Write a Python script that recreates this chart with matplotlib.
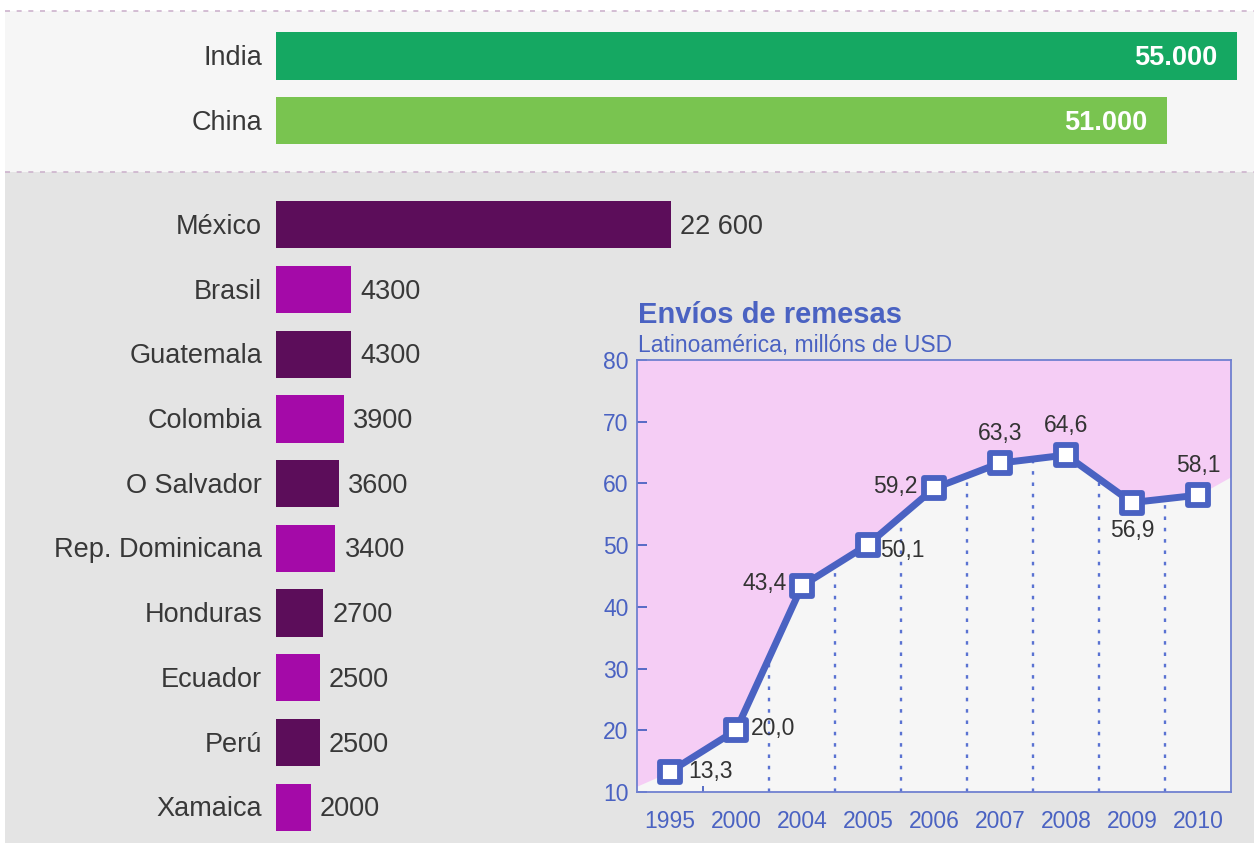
import numpy as np
import matplotlib.pyplot as plt
from matplotlib.patches import Rectangle
from matplotlib.markers import MarkerStyle

plt.rcParams['font.family'] = ['Liberation Sans', 'DejaVu Sans']

# datos
top_countries = ['India', 'China']
top_values = [55000, 51000]
top_colors = ['#15a862', '#79c450']

latam_countries = ['México', 'Brasil', 'Guatemala', 'Colombia', 'O Salvador',
                   'Rep. Dominicana', 'Honduras', 'Ecuador', 'Perú', 'Xamaica']
latam_values = [22600, 4300, 4300, 3900, 3600, 3400, 2700, 2500, 2500, 2000]
latam_colors = ['#5c0d5a', '#a40aa8']

years = ['1995', '2000', '2004', '2005', '2006', '2007', '2008', '2009', '2010']
remesas = [13.3, 20.0, 43.4, 50.1, 59.2, 63.3, 64.6, 56.9, 58.1]
# onde vai cada etiqueta: (dx, dy) en puntos, aliñamento
label_pos = [(13, 0, 'left'), (11, 1, 'left'), (-11, 2, 'right'), (9, -4, 'left'),
             (-12, 1, 'right'), (0, 21, 'center'), (0, 21, 'center'),
             (0, -20, 'center'), (0, 21, 'center')]

W, H = 1254, 843
fig = plt.figure(figsize=(W / 100, H / 100), dpi=100)
fig.patch.set_facecolor('white')

# fondos
fig.patches.append(Rectangle((5 / W, 0), 1, 1 - 11 / H, transform=fig.transFigure,
                             facecolor='#e4e4e4', edgecolor='none', zorder=-2))
fig.patches.append(Rectangle((5 / W, 1 - 172 / H), 1, (172 - 11) / H, transform=fig.transFigure,
                             facecolor='#f6f6f6', edgecolor='none', zorder=-2))
for yy in [11, 172]:
    fig.add_artist(plt.Line2D([5 / W, 1], [1 - yy / H, 1 - yy / H], transform=fig.transFigure,
                              color='#cdb3cd', lw=1.2, ls=(0, (3, 4)), zorder=-1))

# barras
ax = fig.add_axes([0, 0, 1, 1])
ax.set_facecolor('none')
ax.axis('off')
px = (1237 - 276) / 55000  # pixeles por unidade
ax.set_xlim(-276 / px, (W - 276) / px)
row = 64.7
ax.set_ylim((H - 56) / row, -56 / row)

top_y = np.arange(len(top_countries))
latam_y = 2.61 + np.arange(len(latam_countries))

ax.barh(top_y, top_values, height=0.73, color=top_colors, edgecolor='none')
ax.barh(latam_y, latam_values, height=0.73,
        color=[latam_colors[i % 2] for i in range(len(latam_values))], edgecolor='none')

for name, v, y in zip(top_countries, top_values, top_y):
    ax.annotate(name, (0, y), xytext=(-10, -1.5), textcoords='offset points',
                ha='right', va='center', fontsize=19.5, color='#383838')
    ax.annotate(f'{v:,}'.replace(',', '.'), (v, y), xytext=(-14.5, -1.5), textcoords='offset points',
                ha='right', va='center', fontsize=19.5, color='white', fontweight='bold')

for name, v, y in zip(latam_countries, latam_values, latam_y):
    ax.annotate(name, (0, y), xytext=(-10, -1.5), textcoords='offset points',
                ha='right', va='center', fontsize=19.5, color='#383838')
    txt = f'{v:,}'.replace(',', ' ') if v >= 10000 else str(v)
    ax.annotate(txt, (v, y), xytext=(6.5, -1.5), textcoords='offset points',
                ha='left', va='center', fontsize=19.5, color='#383838')

# grafico de remesas
blue = '#4a62c2'
ax2 = fig.add_axes([637 / W, 1 - 792 / H, 594 / W, 432 / H])
ax2.set_facecolor('#f5cdf5')
x = np.arange(len(years))
ax2.set_xlim(-0.5, len(years) - 0.5)
ax2.set_ylim(10, 80)

# zona clara baixo a liña
left_ext = remesas[0] - 0.35 * (remesas[1] - remesas[0])
right_ext = remesas[-1] + 2.5 * (remesas[-1] - remesas[-2])
xf = np.concatenate([[-0.5], x, [len(years) - 0.5]])
yf = np.concatenate([[left_ext], remesas, [right_ext]])
ax2.fill_between(xf, yf, 10, color='#f6f6f6', zorder=1, lw=0)

mids = x[1:-1] + 0.5
for m in mids:
    top = np.interp(m, x, remesas)
    ax2.plot([m, m], [10, top], color='#5a72d2', lw=1.7, ls=(0, (1.5, 3.3)), zorder=2)

ax2.plot(x, remesas, color=blue, lw=5, zorder=3, solid_joinstyle='round',
         marker=MarkerStyle('s', joinstyle='round'), markersize=14.5,
         markerfacecolor='white', markeredgecolor=blue, markeredgewidth=4.2)

for xi, v, (dx, dy, ha) in zip(x, remesas, label_pos):
    ax2.annotate(f'{v:.1f}'.replace('.', ','), (xi, v), xytext=(dx, dy), textcoords='offset points',
                 ha=ha, va='center', fontsize=16.5, color='#333333', zorder=5)

for s in ax2.spines.values():
    s.set_color('#6f80d0')
    s.set_linewidth(1.3)

ax2.set_yticks(range(10, 81, 10))
ax2.tick_params(axis='y', direction='in', length=7, width=1.3, color=blue,
                labelcolor=blue, labelsize=16.5, pad=6)
ax2.set_xticks(x)
ax2.set_xticklabels(years)
ax2.tick_params(axis='x', length=0, labelcolor=blue, labelsize=16.5, pad=13)
ax2.set_xticks([0.5], minor=True)
ax2.tick_params(axis='x', which='minor', direction='in', length=4, width=1.3, color=blue)

fig.text(638 / W, 1 - 323 / H, 'Envíos de remesas', fontsize=21, fontweight='bold',
         color=blue, va='baseline', ha='left')
fig.text(638 / W, 1 - 352 / H, 'Latinoamérica, millóns de USD', fontsize=16.5,
         color=blue, va='baseline', ha='left')

fig.savefig('out.png', dpi=100)
